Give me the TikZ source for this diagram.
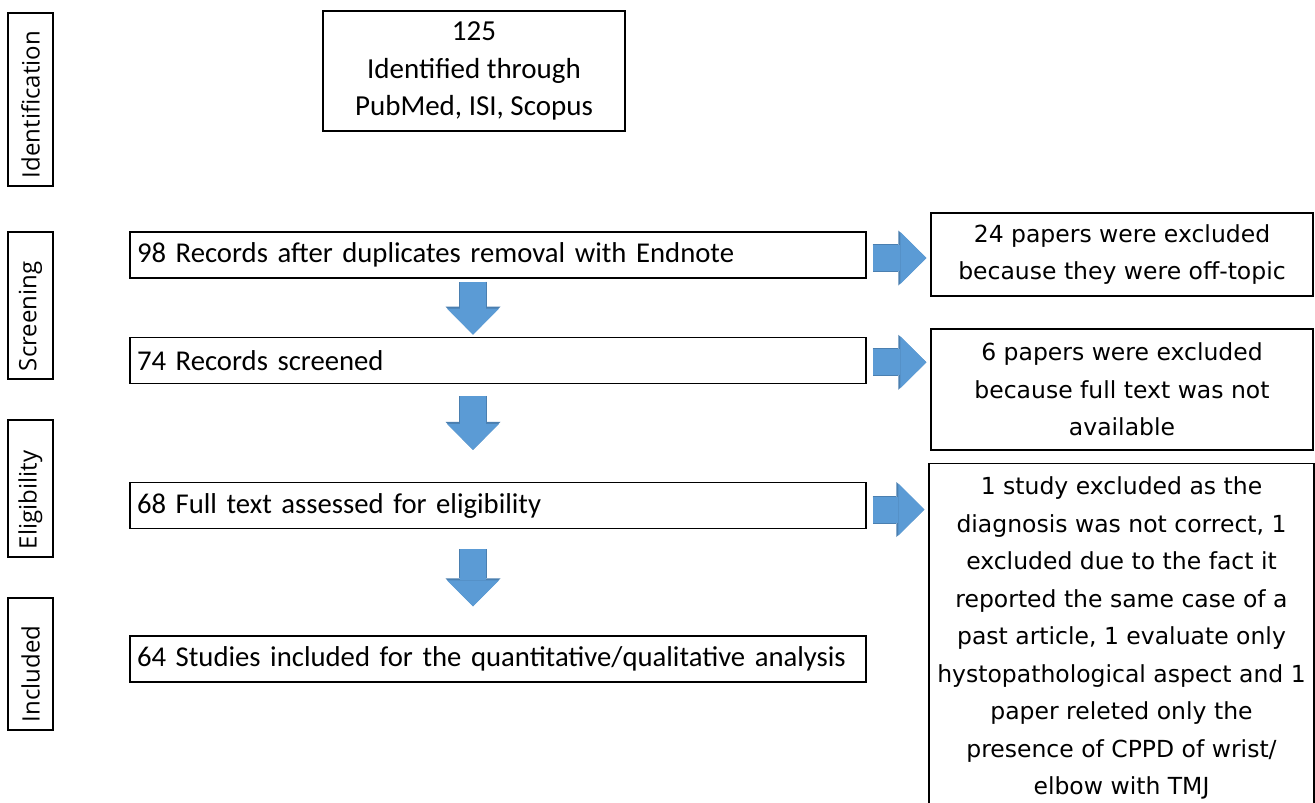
\documentclass[tikz,border=0pt]{standalone}
\usepackage{fontspec}
\setmainfont{Carlito}
\newfontfamily\stagefont{Open Sans}
\newfontfamily\notefont{DejaVu Sans}
\usetikzlibrary{arrows.meta,positioning,calc}
\definecolor{Ink}{HTML}{000000}
\definecolor{ArrowBlue}{HTML}{5B9BD5}
\definecolor{ArrowEdge}{HTML}{4A7FB0}
\tikzset{
  box/.style={draw=Ink,line width=1.3pt,inner sep=0pt,text=Ink},
  stage/.style={box,rotate=90,minimum height=45pt,inner xsep=8pt,align=left,font=\stagefont\fontsize{24}{28}\selectfont},
  srcbox/.style={box,minimum width=302pt,minimum height=120pt,align=center,font=\fontsize{29}{37.5}\selectfont},
  stepbox/.style={box,text width=722pt,inner xsep=7pt,minimum height=46pt,align=left,font=\fontsize{28.7}{37.5}\selectfont},
  notebox/.style={box,minimum width=382pt,align=center,font=\notefont\fontsize{23.5}{37.5}\selectfont},
  blockarrow/.style={draw=ArrowBlue,line width=26pt,-{Triangle[width=52pt,length=26pt,line width=0pt]},
    preaction={draw=ArrowEdge,line width=28pt,-{Triangle[width=55pt,length=28pt,line width=0pt]}}}
}
\begin{document}
\begin{tikzpicture}[x=1pt,y=-1pt,node distance=58pt]
\path[use as bounding box,fill=white] (0,0) rectangle (1315,803);
% stages on the left
\node[stage,text width=157pt] (idf) at (30.5,99.5) {Identification};
\node[stage,text width=131pt] (scr) at (30.5,305.5) {Screening};
\node[stage,text width=121pt] (eli) at (30.5,488.5) {Eligibility};
\node[stage,text width=116pt] (inc) at (30.5,664) {Included};
% main column
\node[srcbox] (src) at (474,71) {125\\Identified through\\PubMed, ISI, Scopus};
\node[stepbox] (rec) at (498,255) {98 Records after duplicates removal with Endnote};
\node[stepbox,below=of rec] (scrd) {74 Records screened};
\node[stepbox,below=98pt of scrd] (full) {68 Full text assessed for eligibility};
\node[stepbox,below=106pt of full] (incl) {64 Studies included for the quantitative/qualitative analysis};
% exclusions
\node[notebox,minimum height=83pt] (ex1) at (1122,254.5) {24 papers were excluded\\because they were off-topic};
\node[notebox,minimum height=121pt] (ex2) at (1122,389.5) {6 papers were excluded\\because full text was not\\available};
\node[notebox,minimum width=385pt,inner ysep=13pt,anchor=north] (ex3) at (1121.5,463) {1 study excluded as the\\diagnosis was not correct, 1\\excluded due to the fact it\\reported the same case of a\\past article, 1 evaluate only\\hystopathological aspect and 1\\paper releted only the\\presence of CPPD of wrist/\\elbow with TMJ};
% block arrows
\coordinate (ax) at (473,0);
\draw[blockarrow,shorten <=3pt,shorten >=2pt] (ax |- rec.south) -- (ax |- scrd.north);
\draw[blockarrow,shorten <=12pt,shorten >=32pt] (ax |- scrd.south) -- (ax |- full.north);
\draw[blockarrow,shorten <=20pt,shorten >=29pt] (ax |- full.south) -- (ax |- incl.north);
\draw[blockarrow,shorten <=6pt,shorten >=4pt] ([yshift=-3pt]rec.east) -- ([yshift=-3pt]rec.east -| ex1.west);
\draw[blockarrow,shorten <=6pt,shorten >=4pt] ([yshift=-2pt]scrd.east) -- ([yshift=-2pt]scrd.east -| ex2.west);
\draw[blockarrow,shorten <=6pt,shorten >=4pt] ([yshift=-4pt]full.east) -- ([yshift=-4pt]full.east -| ex3.west);
\end{tikzpicture}
\end{document}
